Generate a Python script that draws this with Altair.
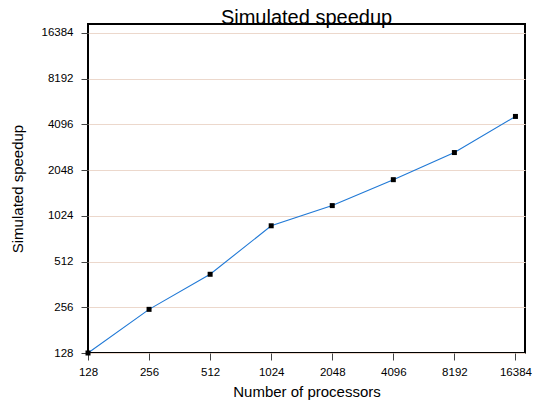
import altair as alt
import pandas as pd

processors = [128, 256, 512, 1024, 2048, 4096, 8192, 16384]
speedup = [128, 248, 422, 880, 1195, 1770, 2670, 4615]
tick_values = [128, 256, 512, 1024, 2048, 4096, 8192, 16384]

df = pd.DataFrame({"processors": processors, "speedup": speedup})

W, H = 437, 329

x_enc = alt.X(
    "processors:Q",
    scale=alt.Scale(type="log", base=2, domain=[128, 18260], nice=False),
    axis=alt.Axis(
        values=tick_values, format="d", grid=False, domain=False,
        tickSize=7, tickColor="#444", labelPadding=6, labelFontSize=11.5,
        labelColor="#000", labelFont="Liberation Sans",
        title="Number of processors", titleFontSize=15, titleFontWeight="normal",
        titleFont="Liberation Sans", titleColor="#000",
        titleX=W / 2, titleY=43, titleBaseline="alphabetic", titleAlign="center",
        labelFlush=False, labelOverlap=False,
    ),
)
y_enc = alt.Y(
    "speedup:Q",
    scale=alt.Scale(type="log", base=2, domain=[128, 18730], nice=False),
    axis=alt.Axis(
        values=tick_values, format="d", grid=True, gridColor="#ecd8cc",
        gridWidth=1.2, domain=False,
        tickSize=7, tickColor="#444", labelPadding=8, labelFontSize=11.5,
        labelColor="#000", labelFont="Liberation Sans",
        title="Simulated speedup", titleFontSize=15, titleFontWeight="normal",
        titleFont="Liberation Sans", titleColor="#000",
        titleX=-70.5, titleY=H / 2, titleAngle=270, titleBaseline="middle",
        titleAlign="center", labelFlush=False, labelOverlap=False,
    ),
)

base = alt.Chart(df)
line = base.mark_line(color="#2079d6", strokeWidth=1.1).encode(x=x_enc, y=y_enc)
pts = base.mark_square(color="#000", size=25, opacity=1).encode(x=x_enc, y=y_enc)

chart = (
    alt.layer(line, pts)
    .properties(
        width=W, height=H,
        background="white",
        title=alt.TitleParams(
            "Simulated speedup", fontSize=20, fontWeight="normal",
            font="Liberation Sans", color="#000", anchor="middle",
            baseline="alphabetic", offset=1, dy=21,
        ),
        autosize=alt.AutoSizeParams(type="none"),
        padding={"left": 88, "top": 24, "right": 10, "bottom": 49},
    )
    .configure_view(stroke="#000", strokeWidth=2)
)

chart.save("out.html", embed_options={"renderer": "svg", "actions": False})
